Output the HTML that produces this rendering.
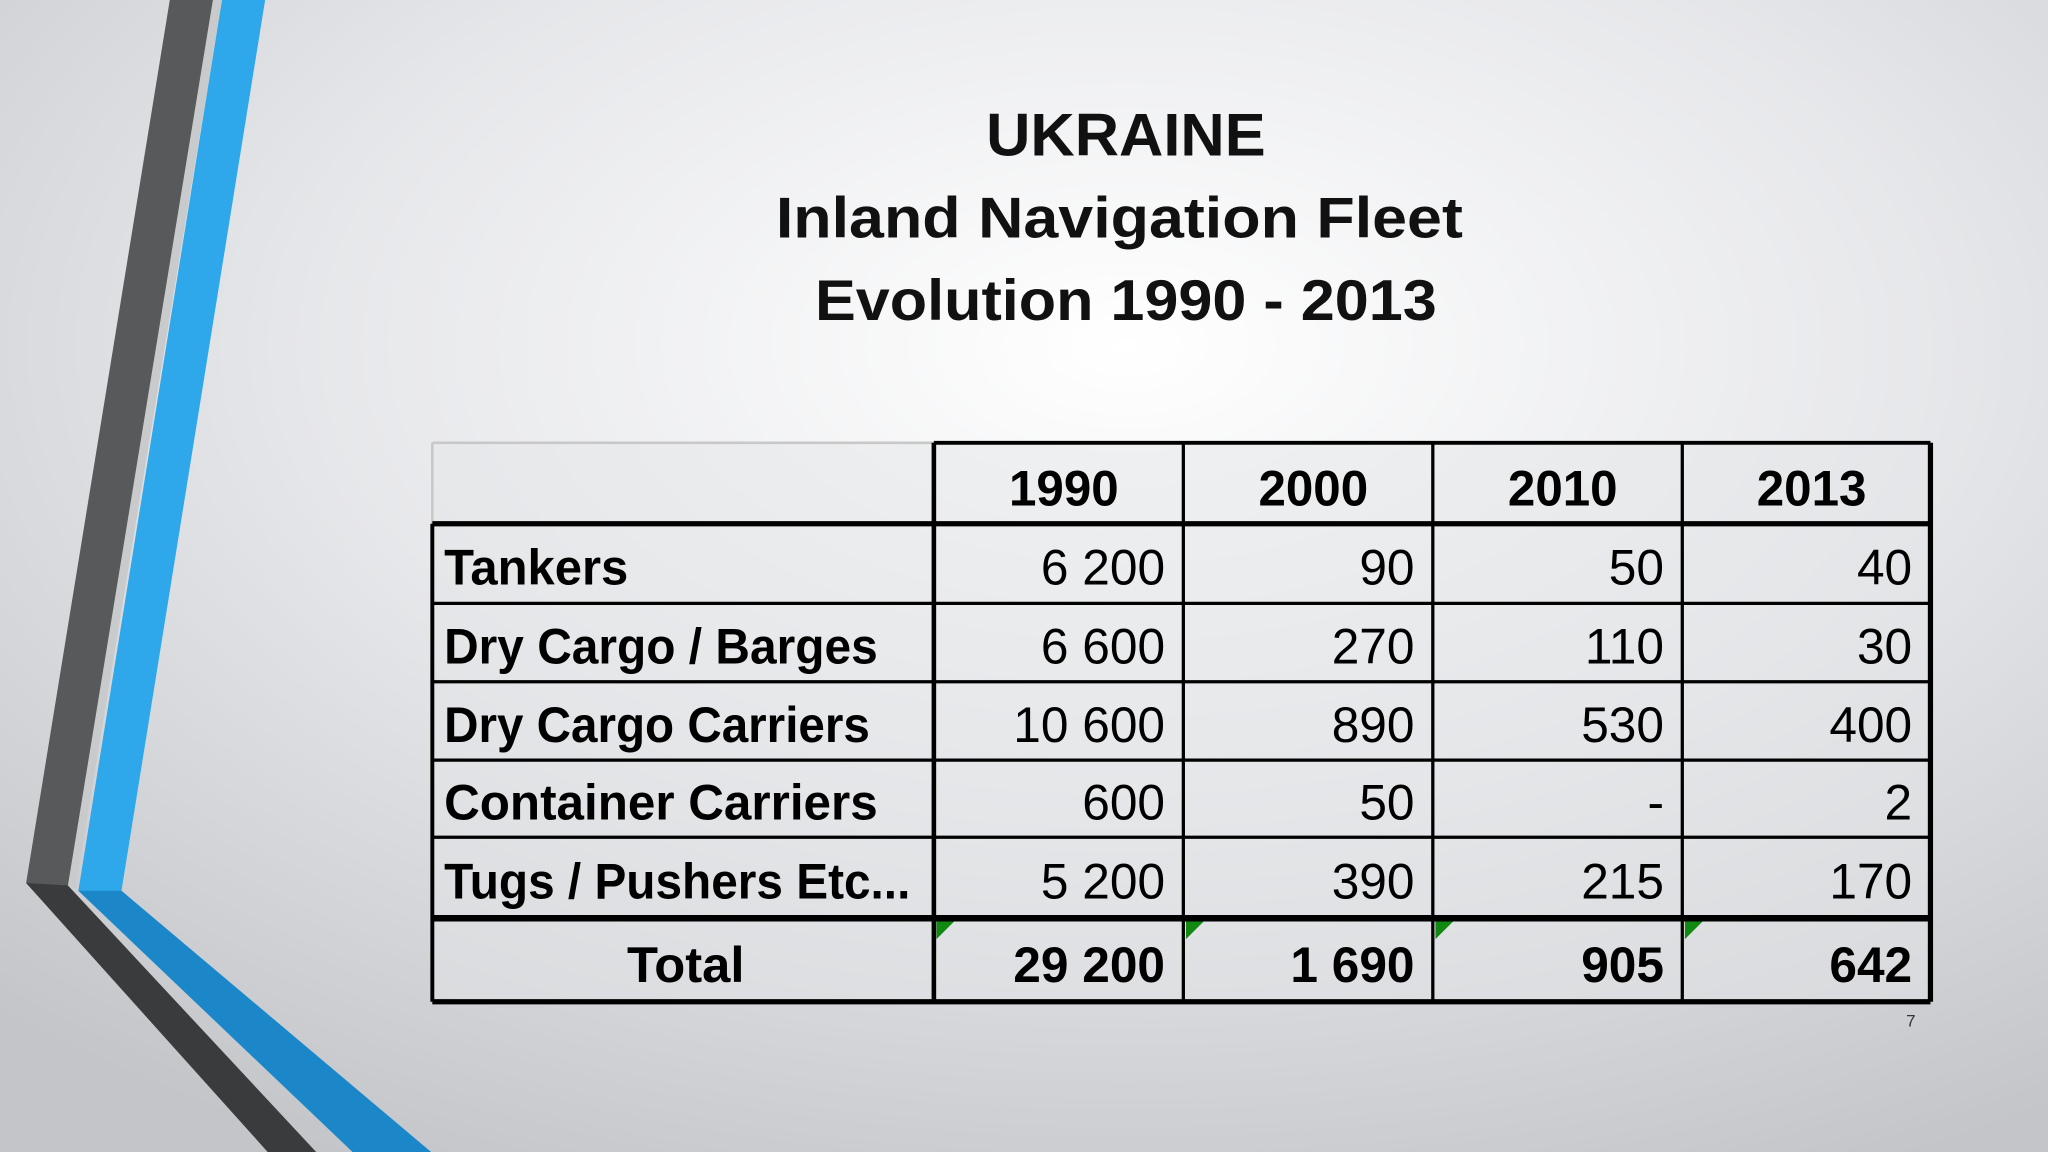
<!DOCTYPE html>
<html><head><meta charset="utf-8"><style>
html,body{margin:0;padding:0;width:2048px;height:1152px;overflow:hidden}
svg{display:block}
text{font-family:"Liberation Sans",sans-serif}
</style></head><body>
<svg width="2048" height="1152" viewBox="0 0 1568 882" xmlns="http://www.w3.org/2000/svg">
<defs>
<radialGradient id="bg" cx="0.55" cy="0.3" r="0.8">
<stop offset="0" stop-color="#ffffff"/><stop offset="0.5" stop-color="#e6e7ea"/><stop offset="1" stop-color="#c3c5c9"/>
</radialGradient>
</defs>
<rect width="1568" height="882" fill="url(#bg)"/>
<g>
<polygon points="163,0 170,0 58,680 52,678" fill="#c9cacc"/>
<polygon points="130,0 163,0 52,678 242,882 205,882 20,676" fill="#58595b"/>
<polygon points="20,676 52,678 242,882 205,882" fill="#3a3b3d"/>
<polygon points="170,0 203,0 93,682 330,882 270,882 60,682" fill="#2ea8ea"/>
<polygon points="60,682 93,682 330,882 270,882" fill="#1b87c9"/>
</g>
<g font-weight="bold" font-size="44" text-anchor="middle" fill="#111">
<text x="862" y="119" font-size="46" textLength="214" lengthAdjust="spacingAndGlyphs">UKRAINE</text>
<text x="857" y="182" textLength="526" lengthAdjust="spacingAndGlyphs">Inland Navigation Fleet</text>
<text x="862" y="245" textLength="476" lengthAdjust="spacingAndGlyphs">Evolution 1990 - 2013</text>
</g>
<g id="tbl"></g>
<text x="1463" y="786" font-size="13" text-anchor="middle" fill="#333">7</text>
</svg>
<script>
const years=["1990","2000","2010","2013"];
const categories=["Tankers","Dry Cargo / Barges","Dry Cargo Carriers","Container Carriers","Tugs / Pushers Etc..."];
const values=[["6 200","90","50","40"],["6 600","270","110","30"],["10 600","890","530","400"],["600","50","-","2"],["5 200","390","215","170"]];
const totals=["29 200","1 690","905","642"];
const NS="http://www.w3.org/2000/svg";
const g=document.getElementById('tbl');
const colX=[331,715,906,1097,1288,1478];
const rowY=[339,401,462,522,582,641,703,767];
function el(t,a,p){const e=document.createElementNS(NS,t);for(const k in a)e.setAttribute(k,a[k]);(p||g).appendChild(e);return e;}
function txt(s,x,y,anchor,bold,w){const e=el('text',{x:x,y:y,'text-anchor':anchor,'font-size':38,'font-weight':bold?'bold':'normal',fill:'#000'});


e.textContent=s;if(w){e.setAttribute('textLength',w);e.setAttribute('lengthAdjust','spacingAndGlyphs');}return e;}
const bgc=el('rect',{x:331,y:339,width:1147,height:428,fill:'#e4e5e8',opacity:0.5});


years.forEach((y,i)=>{const cx=(colX[i+1]+colX[i+2])/2+4;txt(y,cx,387,'middle',true,84);});
categories.forEach((c,r)=>{const yb=(rowY[r+1]+rowY[r+2])/2+16;
const widths=[141,332,326,332,357];
txt(c,340,yb,'start',true,widths[r]);
values[r].forEach((v,i)=>{const t=txt(v,colX[i+2]-14,yb,'end',false);});});
txt('Total',(331+715)/2+2,752,'middle',true,90);
totals.forEach((v,i)=>{const t=txt(v,colX[i+2]-14,752,'end',true);
const tri=el('polygon',{points:(colX[i+1]+2)+',705 '+(colX[i+1]+16)+',705 '+(colX[i+1]+2)+',719',fill:'#118811'});

});
function ln(x1,y1,x2,y2,w,c){const l=el('line',{x1:x1,y1:y1,x2:x2,y2:y2,stroke:c||'#000','stroke-width':w});

}
ln(331,339,715,339,2,'#c8c8c8');ln(331,339,331,401,2,'#c8c8c8');
ln(715,339,1478,339,3);
for(let r=2;r<rowY.length-1;r++){if(r!==6)ln(331,rowY[r],1478,rowY[r],2.5);}
ln(331,401,1478,401,4);ln(331,703,1478,703,5);ln(331,767,1478,767,4);
ln(331,401,331,767,3);ln(715,339,715,767,3.5);ln(1478,339,1478,767,4);
[906,1097,1288].forEach(x=>ln(x,339,x,767,2.5));
</script>
</body></html>
